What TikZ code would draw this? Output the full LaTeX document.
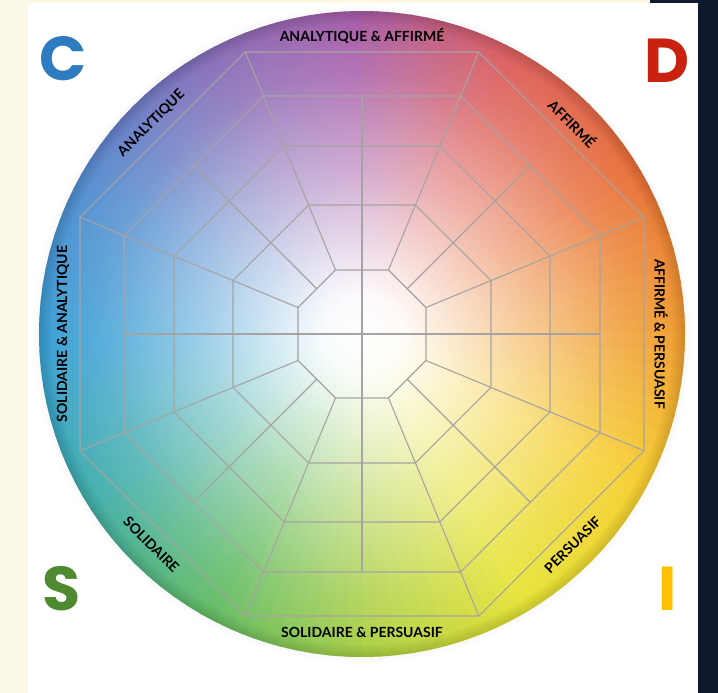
\documentclass[tikz,border=0pt]{standalone}
\usepackage{fontspec}
\setmainfont{Lato}
\newfontfamily\letterfont{Poppins}
\usepackage{tikz}
\usetikzlibrary{positioning, fadings}
\definecolor{pagecream}{HTML}{FCF8E6}
\definecolor{pagenavy}{HTML}{0E1A2B}
\definecolor{gridgray}{HTML}{A7A3A3}
\definecolor{discC}{HTML}{2E7BBF}
\definecolor{discD}{HTML}{C8210F}
\definecolor{discS}{HTML}{4E8A30}
\definecolor{discI}{HTML}{FFC000}
\definecolor{hue0}{HTML}{EF9A30}
\definecolor{hue1}{HTML}{E8703A}
\definecolor{hue2}{HTML}{DC5E5C}
\definecolor{hue3}{HTML}{A65CA8}
\definecolor{hue4}{HTML}{8470BA}
\definecolor{hue5}{HTML}{548DCF}
\definecolor{hue6}{HTML}{3AA0D5}
\definecolor{hue7}{HTML}{43AFAA}
\definecolor{hue8}{HTML}{63BC65}
\definecolor{hue9}{HTML}{ADD045}
\definecolor{hue10}{HTML}{E6E335}
\definecolor{hue11}{HTML}{F6CF30}
\colorlet{hue12}{hue0}
\pgfdeclareradialshading{coreshade}{\pgfpointorigin}{color(0bp)=(white); color(3bp)=(white!97!black); color(12bp)=(black!48); color(20bp)=(black!84); color(25bp)=(black); color(50bp)=(black)}
\pgfdeclarefading{whitecore}{\pgfuseshading{coreshade}}

\begin{document}
\begin{tikzpicture}[x=1pt, y=1pt]
  \tikzstyle{every node}=[inner sep=0pt]
  \tikzstyle{gridline} = [draw=gridgray, line width=1.1pt]
  \tikzstyle{ringlabel} = [font=\bfseries\fontsize{14}{16}\selectfont, text=black]
  \tikzstyle{corner} = [font=\letterfont\bfseries\fontsize{62}{62}\selectfont]

  \useasboundingbox (0,0) rectangle (718,-693);
  \fill[pagecream] (0,0) rectangle (718,-693);
  \fill[white] (28,-3) rectangle (698,-693);
  \fill[pagenavy] (698,0) rectangle (718,-693);
  \fill[pagenavy] (650,0) rectangle (698,-3);

  \coordinate (c) at (362,-334);
  \def\R{323}

  % soft shadow
  \foreach \w in {2,4,6}
    \draw[black, opacity=0.008, line width=\w pt] (c) circle[radius=\R+\w/2];

  % colour wheel
  \foreach \s [count=\n] in {0,...,11}
    \foreach \j in {0,...,9} {
      \pgfmathtruncatemacro\pct{100-10*\j}
      \pgfmathsetmacro\a{30*\s+3*\j}
      \colorlet{wedgecol}{hue\s!\pct!hue\n}
      \fill[wedgecol] (c) -- ++(\a:\R) arc[start angle=\a, delta angle=3.5, radius=\R] -- cycle;
    }
  \fill[white, path fading=whitecore] (c) circle[radius=\R];
  \foreach \w in {2,4,...,12}
    \draw[black, opacity=0.02, line width=\w pt] (c) circle[radius=\R-\w/2];

  \begin{scope}[shift={(c)}]
    \foreach \ap in {64,129,188,238,282} {
      \pgfmathsetmacro\rad{\ap/cos(22.5)}
      \draw[gridline] (22.5:\rad) \foreach \k in {1,...,7} { -- (22.5+45*\k:\rad) } -- cycle;
    }
    \foreach \k in {0,...,7} {
      \draw[gridline] (22.5+45*\k:69.27) -- (22.5+45*\k:305.23);
      \draw[gridline] (45*\k:64) -- (45*\k:238);
    }
    \draw[gridline] (-64,0) -- (64,0) (0,-64) -- (0,64);

    \node[ringlabel] (lblN) at (90:298) {ANALYTIQUE \& AFFIRMÉ};
    \node[ringlabel, rotate=-45] (lblNE) at (45:298) {AFFIRMÉ};
    \node[ringlabel, rotate=-90] (lblE) at (0:299) {AFFIRMÉ \& PERSUASIF};
    \node[ringlabel, rotate=45] (lblSE) at (-45:298) {PERSUASIF};
    \node[ringlabel] (lblS) at (-90:298) {SOLIDAIRE \& PERSUASIF};
    \node[ringlabel, rotate=-45] (lblSW) at (-135:298) {SOLIDAIRE};
    \node[ringlabel, rotate=90] (lblW) at (180:299) {SOLIDAIRE \& ANALYTIQUE};
    \node[ringlabel, rotate=45] (lblNW) at (135:298) {ANALYTIQUE};
  \end{scope}

  \node[corner, text=discC] (letC) at (63,-59) {C};
  \node[corner, text=discD] (letD) at (667,-61) {D};
  \node[corner, text=discS] (letS) at (62,-589) {S};
  \node[corner, text=discI] (letI) at (668,-589) {I};
\end{tikzpicture}
\end{document}
